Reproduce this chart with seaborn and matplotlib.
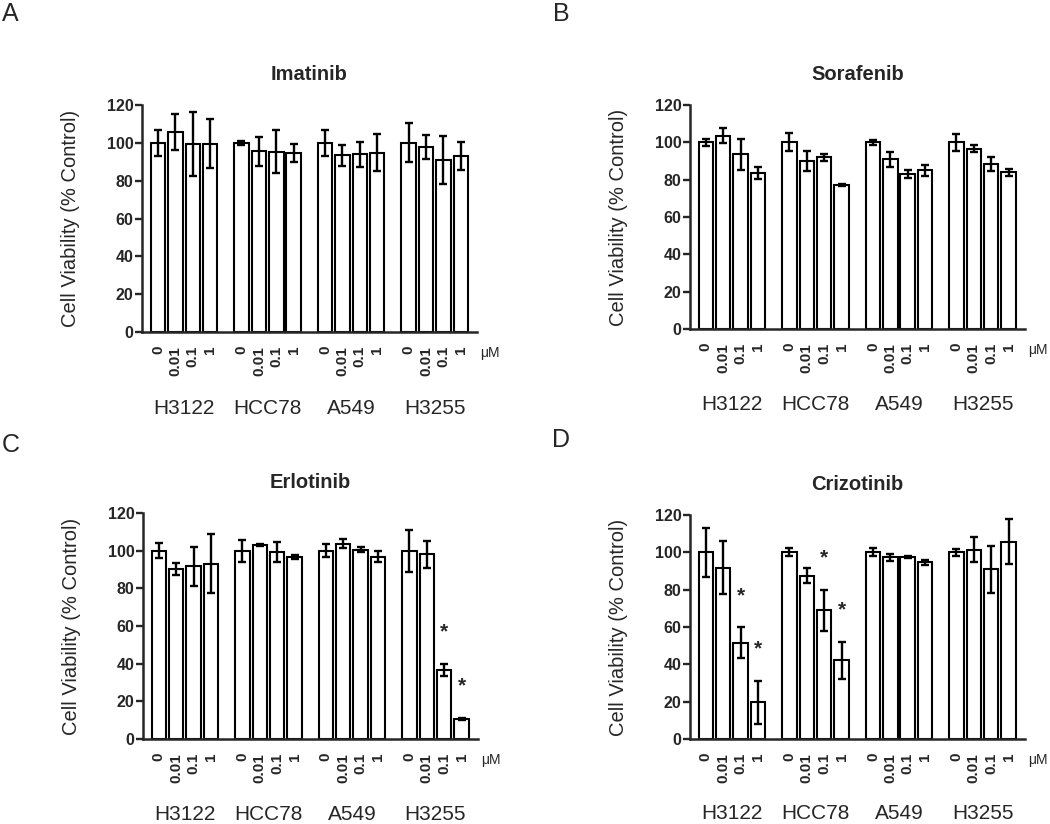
import pandas as pd
import seaborn as sns
import matplotlib.pyplot as plt

# Labels
cell_lines = ["H3122", "HCC78", "A549", "H3255"]
doses = ["0", "0.01", "0.1", "1"]
drugs = ["Imatinib", "Sorafenib", "Erlotinib", "Crizotinib"]
letters = ["A", "B", "C", "D"]

# Mean viability (% control), 4 doses per cell line, cell lines in order above
imatinib_mean = [100, 106, 99.5, 99.5, 100, 95.6, 95.3, 94.8, 100, 93.5, 94, 94.8, 100, 98, 90.9, 93.2]
imatinib_err = [7, 9.5, 17, 13, 1, 7.6, 11.4, 4.8, 7, 5.6, 6.5, 9.7, 10.3, 6.3, 12.8, 7.3]
sorafenib_mean = [100, 103.6, 93.6, 83.6, 100, 90, 92, 77.1, 100, 90.9, 82.9, 85, 100, 96.6, 88.4, 83.9]
sorafenib_err = [2, 4, 8.3, 3.4, 4.7, 5.4, 1.9, 0.5, 1.4, 4.1, 2.1, 3, 4.6, 1.8, 3.6, 1.8]
erlotinib_mean = [100, 90.2, 91.7, 93.1, 100, 103, 99.3, 96.5, 100, 103.7, 100.5, 96.8, 100, 98, 36.7, 10.5]
erlotinib_err = [4, 3, 10.3, 15.8, 5.8, 0.5, 5.2, 1.2, 3.3, 2.3, 1.2, 3, 11.1, 7.2, 3.1, 0.5]
crizotinib_mean = [100, 91.7, 51.6, 19.7, 100, 87.4, 69, 42.1, 100, 97.3, 97.4, 94.6, 100, 101.5, 90.8, 105.7]
crizotinib_err = [13, 14.2, 8.3, 11.5, 2.2, 4, 10.9, 10, 2.1, 2, 0.6, 1.3, 1.7, 6.7, 12.4, 12]

# Significance flags (*)
erlotinib_sig = [0] * 14 + [1, 1]
crizotinib_sig = [0, 0, 1, 1, 0, 0, 1, 1] + [0] * 8
no_sig = [0] * 16

means = [imatinib_mean, sorafenib_mean, erlotinib_mean, crizotinib_mean]
errs = [imatinib_err, sorafenib_err, erlotinib_err, crizotinib_err]
sigs = [no_sig, no_sig, erlotinib_sig, crizotinib_sig]

sns.set_style("ticks")
plt.rcParams['font.family'] = ['Liberation Sans', 'DejaVu Sans']
plt.rcParams['axes.linewidth'] = 1.8

fig = plt.figure(figsize=(10.5, 8.24), dpi=100)

# axes rectangles [left, bottom, width, height]
rects = [[0.1352, 0.597, 0.319, 0.2755],
         [0.657, 0.6007, 0.319, 0.272],
         [0.136, 0.1032, 0.319, 0.2743],
         [0.657, 0.1032, 0.319, 0.2718]]
letter_pos = [(0.002, 0.997), (0.527, 0.997), (0.002, 0.474), (0.526, 0.481)]

group_step = 4.8

for k in range(4):
    ax = fig.add_axes(rects[k])
    rows = []
    for g, cl in enumerate(cell_lines):
        for j, d in enumerate(doses):
            i = g * 4 + j
            rows.append({"cell": cl, "dose": d, "pos": g * group_step + j,
                         "value": means[k][i], "err": errs[k][i], "sig": sigs[k][i]})
    df = pd.DataFrame(rows)

    sns.barplot(data=df, x="pos", y="value", native_scale=True, width=0.83,
                color="white", saturation=1, edgecolor="black", linewidth=1.5,
                errorbar=None, ax=ax)
    ax.errorbar(df["pos"], df["value"], yerr=df["err"], fmt="none", ecolor="black",
                elinewidth=1.7, capsize=3, capthick=1.7, clip_on=False)

    for _, r in df[df["sig"] == 1].iterrows():
        ax.text(r["pos"], r["value"] + r["err"] + 17, "*", ha="center", va="center",
                fontsize=15, fontweight="bold")

    ax.set_xlim(-0.92, 3 * group_step + 3.93)
    ax.set_ylim(0, 120)
    ax.set_yticks(range(0, 121, 20))
    ax.set_xticks(df["pos"])
    ax.set_xticklabels(df["dose"], rotation=90, fontweight="bold", fontsize=11)
    for lab in ax.get_yticklabels():
        lab.set_fontweight("bold")
        lab.set_fontsize(11.5)
    ax.tick_params(axis="x", length=0, pad=10)
    ax.tick_params(axis="y", length=5, width=1.7, pad=1)
    ax.set_xlabel("")
    ax.set_ylabel("Cell Viability (% Control)", fontsize=14.5)
    ax.yaxis.set_label_coords(-0.185, 0.5)
    ax.set_title(drugs[k], fontsize=14.5, fontweight="bold", pad=18)
    sns.despine(ax=ax)

    # cell line names under each group
    trans = ax.get_xaxis_transform()
    for g, cl in enumerate(cell_lines):
        ax.text(g * group_step + 1.5, -0.335, cl, transform=trans, ha="center",
                va="center", fontsize=15)
    ax.text(1.01, -0.093, "\u03bcM", transform=ax.transAxes, ha="left", va="center",
            fontsize=10)

    fig.text(letter_pos[k][0], letter_pos[k][1], letters[k], ha="left", va="top",
             fontsize=18)

fig.savefig("out.png", dpi=100)
